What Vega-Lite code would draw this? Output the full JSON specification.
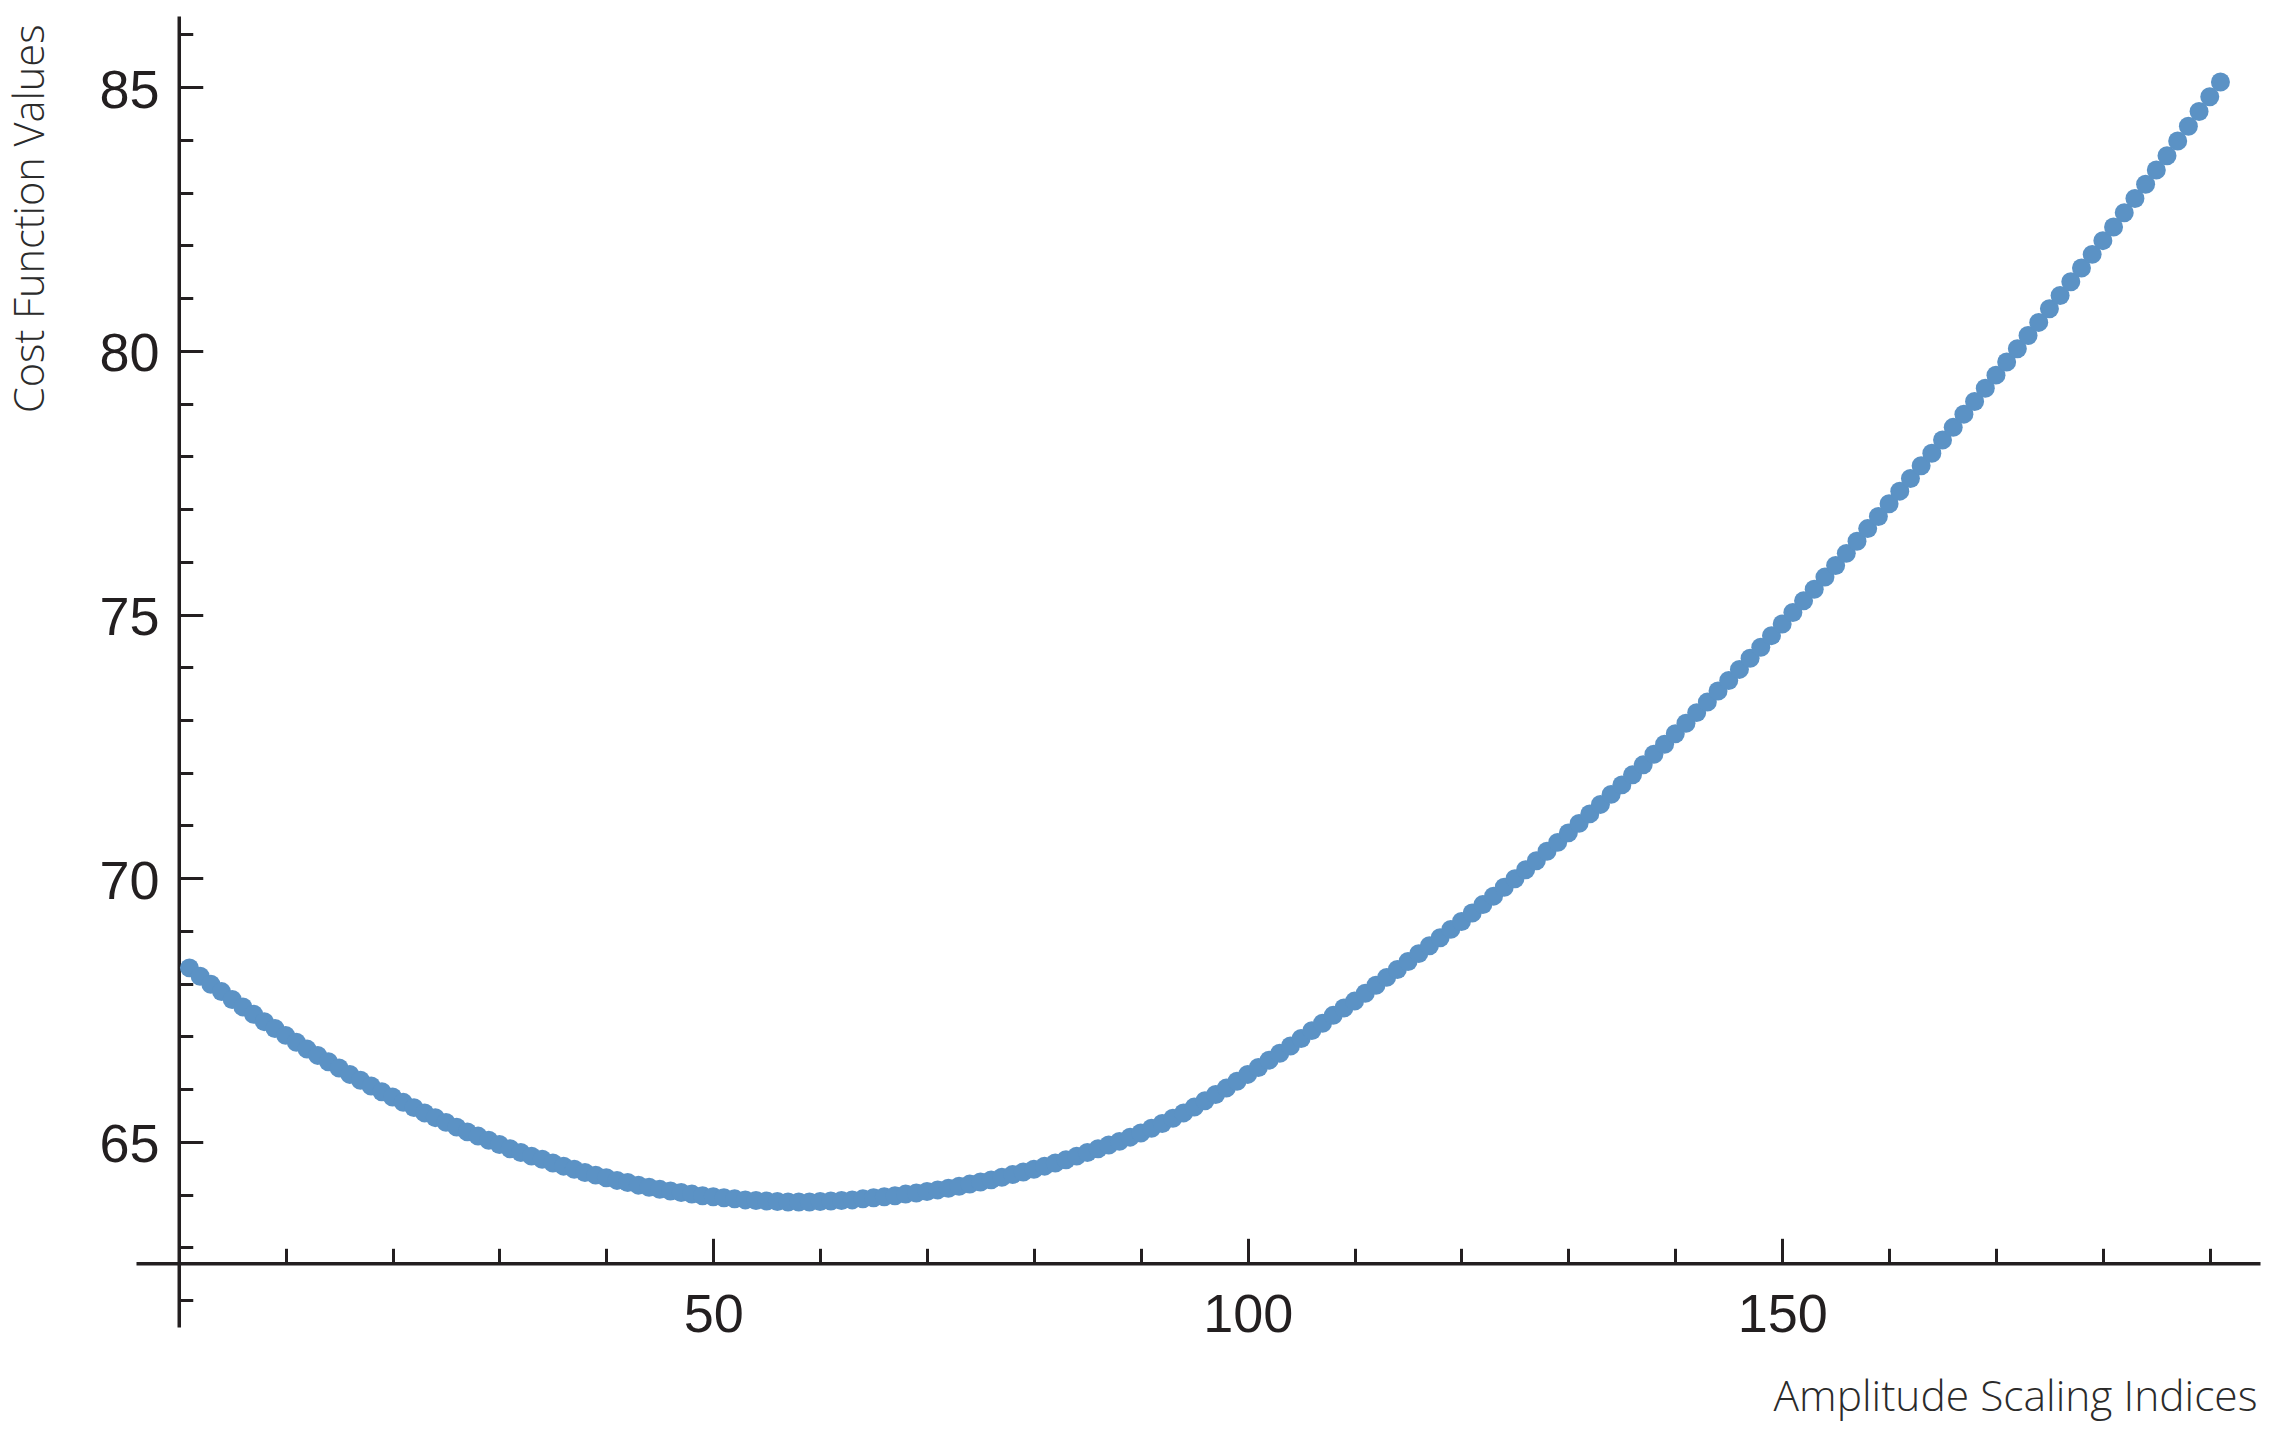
{
  "$schema": "https://vega.github.io/schema/vega-lite/v6.json",
  "width": 2124,
  "height": 1311,
  "autosize": {"type": "none"},
  "padding": {"left": 136, "top": 16, "right": 12, "bottom": 111},
  "background": "white",
  "config": {"view": {"stroke": null}},
  "data": {"values": [
    {"k":1,"v":68.30},{"k":2,"v":68.14},{"k":3,"v":67.99},{"k":4,"v":67.85},{"k":5,"v":67.70},
    {"k":6,"v":67.56},{"k":7,"v":67.42},{"k":8,"v":67.28},{"k":9,"v":67.15},{"k":10,"v":67.02},
    {"k":11,"v":66.89},{"k":12,"v":66.76},{"k":13,"v":66.64},{"k":14,"v":66.52},{"k":15,"v":66.40},
    {"k":16,"v":66.28},{"k":17,"v":66.17},{"k":18,"v":66.06},{"k":19,"v":65.95},{"k":20,"v":65.85},
    {"k":21,"v":65.75},{"k":22,"v":65.65},{"k":23,"v":65.55},{"k":24,"v":65.46},{"k":25,"v":65.37},
    {"k":26,"v":65.28},{"k":27,"v":65.19},{"k":28,"v":65.11},{"k":29,"v":65.03},{"k":30,"v":64.95},
    {"k":31,"v":64.87},{"k":32,"v":64.80},{"k":33,"v":64.73},{"k":34,"v":64.67},{"k":35,"v":64.60},
    {"k":36,"v":64.54},{"k":37,"v":64.48},{"k":38,"v":64.42},{"k":39,"v":64.37},{"k":40,"v":64.32},
    {"k":41,"v":64.27},{"k":42,"v":64.23},{"k":43,"v":64.18},{"k":44,"v":64.14},{"k":45,"v":64.10},
    {"k":46,"v":64.07},{"k":47,"v":64.04},{"k":48,"v":64.01},{"k":49,"v":63.98},{"k":50,"v":63.96},
    {"k":51,"v":63.94},{"k":52,"v":63.92},{"k":53,"v":63.90},{"k":54,"v":63.89},{"k":55,"v":63.88},
    {"k":56,"v":63.87},{"k":57,"v":63.86},{"k":58,"v":63.86},{"k":59,"v":63.86},{"k":60,"v":63.87},
    {"k":61,"v":63.88},{"k":62,"v":63.89},{"k":63,"v":63.90},{"k":64,"v":63.92},{"k":65,"v":63.94},
    {"k":66,"v":63.96},{"k":67,"v":63.98},{"k":68,"v":64.01},{"k":69,"v":64.03},{"k":70,"v":64.06},
    {"k":71,"v":64.09},{"k":72,"v":64.12},{"k":73,"v":64.16},{"k":74,"v":64.20},{"k":75,"v":64.24},
    {"k":76,"v":64.28},{"k":77,"v":64.33},{"k":78,"v":64.38},{"k":79,"v":64.43},{"k":80,"v":64.48},
    {"k":81,"v":64.54},{"k":82,"v":64.60},{"k":83,"v":64.66},{"k":84,"v":64.73},{"k":85,"v":64.80},
    {"k":86,"v":64.87},{"k":87,"v":64.94},{"k":88,"v":65.01},{"k":89,"v":65.09},{"k":90,"v":65.17},
    {"k":91,"v":65.26},{"k":92,"v":65.35},{"k":93,"v":65.45},{"k":94,"v":65.55},{"k":95,"v":65.66},
    {"k":96,"v":65.78},{"k":97,"v":65.90},{"k":98,"v":66.02},{"k":99,"v":66.15},{"k":100,"v":66.28},
    {"k":101,"v":66.41},{"k":102,"v":66.55},{"k":103,"v":66.68},{"k":104,"v":66.82},{"k":105,"v":66.96},
    {"k":106,"v":67.11},{"k":107,"v":67.25},{"k":108,"v":67.40},{"k":109,"v":67.54},{"k":110,"v":67.67},
    {"k":111,"v":67.82},{"k":112,"v":67.97},{"k":113,"v":68.12},{"k":114,"v":68.27},{"k":115,"v":68.42},
    {"k":116,"v":68.57},{"k":117,"v":68.72},{"k":118,"v":68.87},{"k":119,"v":69.03},{"k":120,"v":69.18},
    {"k":121,"v":69.34},{"k":122,"v":69.50},{"k":123,"v":69.66},{"k":124,"v":69.83},{"k":125,"v":69.99},
    {"k":126,"v":70.16},{"k":127,"v":70.33},{"k":128,"v":70.51},{"k":129,"v":70.68},{"k":130,"v":70.86},
    {"k":131,"v":71.04},{"k":132,"v":71.22},{"k":133,"v":71.40},{"k":134,"v":71.59},{"k":135,"v":71.77},
    {"k":136,"v":71.96},{"k":137,"v":72.15},{"k":138,"v":72.35},{"k":139,"v":72.54},{"k":140,"v":72.74},
    {"k":141,"v":72.94},{"k":142,"v":73.14},{"k":143,"v":73.34},{"k":144,"v":73.55},{"k":145,"v":73.75},
    {"k":146,"v":73.96},{"k":147,"v":74.17},{"k":148,"v":74.38},{"k":149,"v":74.60},{"k":150,"v":74.82},
    {"k":151,"v":75.04},{"k":152,"v":75.26},{"k":153,"v":75.48},{"k":154,"v":75.71},{"k":155,"v":75.93},
    {"k":156,"v":76.16},{"k":157,"v":76.39},{"k":158,"v":76.63},{"k":159,"v":76.86},{"k":160,"v":77.10},
    {"k":161,"v":77.34},{"k":162,"v":77.58},{"k":163,"v":77.82},{"k":164,"v":78.06},{"k":165,"v":78.31},
    {"k":166,"v":78.55},{"k":167,"v":78.80},{"k":168,"v":79.04},{"k":169,"v":79.29},{"k":170,"v":79.54},
    {"k":171,"v":79.79},{"k":172,"v":80.04},{"k":173,"v":80.29},{"k":174,"v":80.54},{"k":175,"v":80.80},
    {"k":176,"v":81.05},{"k":177,"v":81.31},{"k":178,"v":81.57},{"k":179,"v":81.83},{"k":180,"v":82.09},
    {"k":181,"v":82.35},{"k":182,"v":82.62},{"k":183,"v":82.89},{"k":184,"v":83.16},{"k":185,"v":83.43},
    {"k":186,"v":83.70},{"k":187,"v":83.98},{"k":188,"v":84.26},{"k":189,"v":84.54},{"k":190,"v":84.82},
    {"k":191,"v":85.10}
  ]},
  "layer": [
    {
      "mark": {"type": "circle", "size": 360, "color": "#5b92c5", "opacity": 1, "strokeWidth": 0},
      "encoding": {
        "x": {"field": "k", "type": "quantitative",
          "scale": {"domain": [-4, 194.7], "nice": false, "zero": false},
          "axis": {"orient": "bottom", "offset": -63.7, "values": [50, 100, 150],
            "grid": false, "domain": true, "domainColor": "#231f20", "domainWidth": 3.5,
            "ticks": true, "tickSize": -25, "tickWidth": 3, "tickColor": "#231f20",
            "labelFont": "Liberation Sans", "labelFontSize": 54, "labelColor": "#231f20",
            "labelBaseline": "alphabetic", "labelAlign": "center", "labelPadding": 93.4,
            "labelFlush": false, "labelOverlap": false,
            "title": "Amplitude Scaling Indices", "titleFont": "Open Sans", "titleFontWeight": 300,
            "titleFontSize": 42.5, "titleColor": "#2b2b2b", "titleX": 2121, "titleY": 146.7,
            "titleAlign": "right", "titleBaseline": "alphabetic", "titleAngle": 0}},
        "y": {"field": "v", "type": "quantitative",
          "scale": {"domain": [61.49, 86.35], "nice": false, "zero": false},
          "axis": {"orient": "left", "offset": -42.76, "values": [65, 70, 75, 80, 85],
            "grid": false, "domain": true, "domainColor": "#231f20", "domainWidth": 3.5,
            "ticks": true, "tickSize": -24, "tickWidth": 3, "tickColor": "#231f20",
            "labelFont": "Liberation Sans", "labelFontSize": 54, "labelColor": "#231f20",
            "labelBaseline": "alphabetic", "labelAlign": "right", "labelPadding": 43.7, "labelOffset": 20,
            "labelFlush": false, "labelOverlap": false,
            "title": "Cost Function Values", "titleFont": "Open Sans", "titleFontWeight": 300,
            "titleFontSize": 41.5, "titleColor": "#2b2b2b", "titleX": -135.5, "titleY": 8,
            "titleAlign": "right", "titleBaseline": "alphabetic", "titleAngle": 270}}
      }
    },
    {
      "mark": {"type": "circle", "opacity": 0},
      "encoding": {
        "x": {"field": "k", "type": "quantitative",
          "scale": {"domain": [-4, 194.7], "nice": false, "zero": false},
          "axis": {"orient": "bottom", "offset": -63.7,
            "values": [10, 20, 30, 40, 60, 70, 80, 90, 110, 120, 130, 140, 160, 170, 180, 190],
            "grid": false, "domain": false, "labels": false, "title": null,
            "ticks": true, "tickSize": -15, "tickWidth": 3, "tickColor": "#231f20"}},
        "y": {"field": "v", "type": "quantitative",
          "scale": {"domain": [61.49, 86.35], "nice": false, "zero": false},
          "axis": {"orient": "left", "offset": -42.76,
            "values": [62, 63, 64, 66, 67, 68, 69, 71, 72, 73, 74, 76, 77, 78, 79, 81, 82, 83, 84, 86],
            "grid": false, "domain": false, "labels": false, "title": null,
            "ticks": true, "tickSize": -14, "tickWidth": 3, "tickColor": "#231f20"}}
      }
    }
  ],
  "resolve": {"axis": {"x": "independent", "y": "independent"}}
}
